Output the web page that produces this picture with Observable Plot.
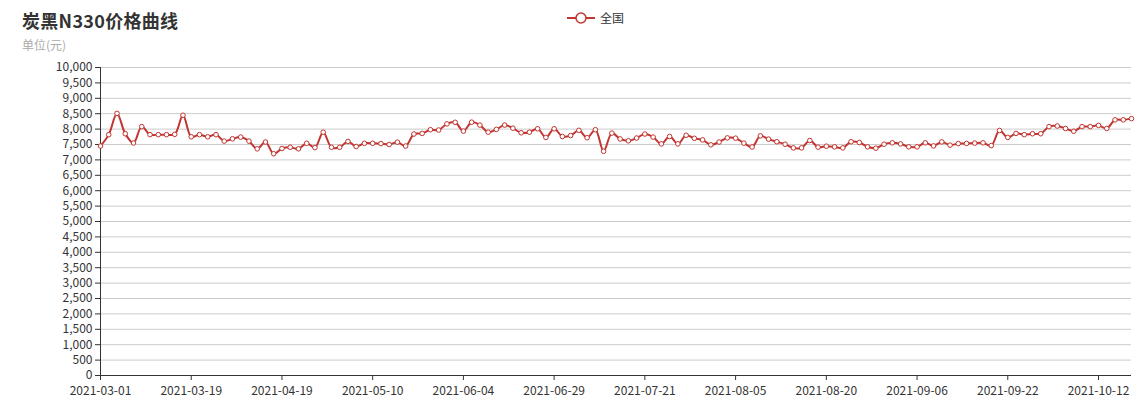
<!DOCTYPE html>
<html>
<head>
<meta charset="utf-8">
<script src="https://cdn.jsdelivr.net/npm/d3@7"></script>
<script src="https://cdn.jsdelivr.net/npm/@observablehq/plot@0.6"></script>
<style>
  html, body { margin: 0; padding: 0; background: #fff; }
  body { width: 1148px; height: 413px; overflow: hidden; font-family: "Noto Sans CJK SC", "Noto Sans", sans-serif; }
  #header { position: relative; height: 56px; }
  #title { position: absolute; left: 22px; top: 7px; font-size: 18px; font-weight: bold; color: #333; letter-spacing: 0.3px; }
  #subtitle { position: absolute; left: 22px; top: 36px; font-size: 12px; color: #aaa; }
  #legend { position: absolute; left: 567px; top: 9px; font-size: 12px; color: #333; display: flex; align-items: center; }
  #legend svg { margin-right: 5px; }
  #chart svg { display: block; }
</style>
</head>
<body>
<div id="header">
  <div id="title">炭黑N330价格曲线</div>
  <div id="subtitle">单位(元)</div>
  <div id="legend"><svg width="28" height="14"><line x1="0" y1="7" x2="28" y2="7" stroke="#c23531" stroke-width="2"/><circle cx="14" cy="7" r="5" fill="#fff" stroke="#c23531" stroke-width="1.5"/></svg><span>全国</span></div>
</div>
<div id="chart"></div>
<script>
const seriesName = "全国";
const dates = [
  "2021-03-01","2021-03-02","2021-03-03","2021-03-04","2021-03-05","2021-03-08","2021-03-09","2021-03-10","2021-03-12","2021-03-15","2021-03-17",
  "2021-03-19","2021-03-22","2021-03-24","2021-03-26","2021-03-29","2021-03-31","2021-04-02","2021-04-07","2021-04-09","2021-04-13","2021-04-15",
  "2021-04-19","2021-04-20","2021-04-21","2021-04-22","2021-04-23","2021-04-26","2021-04-27","2021-04-28","2021-04-29","2021-04-30","2021-05-07",
  "2021-05-10","2021-05-11","2021-05-13","2021-05-14","2021-05-17","2021-05-19","2021-05-21","2021-05-24","2021-05-26","2021-05-28","2021-06-01",
  "2021-06-04","2021-06-07","2021-06-08","2021-06-10","2021-06-11","2021-06-15","2021-06-17","2021-06-18","2021-06-22","2021-06-24","2021-06-25",
  "2021-06-29","2021-06-30","2021-07-01","2021-07-02","2021-07-05","2021-07-07","2021-07-09","2021-07-12","2021-07-14","2021-07-16","2021-07-19",
  "2021-07-21","2021-07-22","2021-07-23","2021-07-26","2021-07-27","2021-07-28","2021-07-29","2021-07-30","2021-08-02","2021-08-03","2021-08-04",
  "2021-08-05","2021-08-06","2021-08-09","2021-08-10","2021-08-11","2021-08-12","2021-08-13","2021-08-16","2021-08-17","2021-08-18","2021-08-19",
  "2021-08-20","2021-08-23","2021-08-24","2021-08-25","2021-08-26","2021-08-27","2021-08-30","2021-08-31","2021-09-01","2021-09-02","2021-09-03",
  "2021-09-06","2021-09-07","2021-09-08","2021-09-09","2021-09-10","2021-09-13","2021-09-14","2021-09-15","2021-09-16","2021-09-17","2021-09-18",
  "2021-09-22","2021-09-23","2021-09-24","2021-09-26","2021-09-27","2021-09-28","2021-09-29","2021-09-30","2021-10-08","2021-10-09","2021-10-11",
  "2021-10-12","2021-10-13","2021-10-14","2021-10-15","2021-10-18"
];
const prices = [
  7450, 7820, 8510, 7850, 7550, 8080, 7820, 7820, 7820, 7830, 8450,
  7750, 7820, 7750, 7820, 7610, 7685, 7740, 7610, 7360, 7580, 7200,
  7370, 7410, 7360, 7540, 7400, 7900, 7410, 7410, 7600, 7435, 7540,
  7540, 7530, 7500, 7575, 7450, 7840, 7860, 7980, 7970, 8170, 8220,
  7935, 8225, 8130, 7900, 7990, 8130, 8030, 7880, 7900, 8010, 7730,
  8010, 7760, 7790, 7960, 7720, 7980, 7280, 7870, 7680, 7620, 7710,
  7840, 7740, 7520, 7760, 7520, 7800, 7700, 7650, 7490, 7580, 7715,
  7705, 7545, 7420, 7780, 7675, 7590, 7510, 7390, 7390, 7630, 7415,
  7445, 7425, 7390, 7590, 7565, 7425, 7380, 7510, 7555, 7520, 7425,
  7425, 7555, 7455, 7585, 7480, 7530, 7535, 7545, 7555, 7465, 7955,
  7730, 7860, 7820, 7850, 7850, 8080, 8100, 8020, 7930, 8080, 8080,
  8120, 8020, 8300, 8300, 8340, 8400
];
const yTicks = d3.range(0, 10001, 500);
const labelStep = 11;

const data = dates.map((d, i) => ({date: d, price: prices[i], series: seriesName}));
const xTicks = dates.filter((d, i) => i % labelStep === 0);
const color = "#c23531";

const chart = Plot.plot({
  width: 1148,
  height: 357,
  marginTop: 11,
  marginBottom: 38,
  marginLeft: 100,
  marginRight: 17,
  style: {fontFamily: "'Noto Sans CJK SC', 'Noto Sans', sans-serif", fontSize: "12px", color: "#333", background: "#fff"},
  x: {type: "point", domain: dates, padding: 0},
  y: {domain: [0, 10000]},
  marks: [
    Plot.gridY(yTicks, {stroke: "#ccc", strokeOpacity: 1}),
    Plot.axisY({ticks: yTicks, tickFormat: d3.format(","), tickSize: 5, tickPadding: 3, stroke: "#333", fill: "#333", label: null}),
    Plot.axisX({ticks: xTicks, tickSize: 5, tickPadding: 6, stroke: "#333", fill: "#333", label: null}),
    Plot.ruleY([0], {stroke: "#333"}),
    Plot.ruleX([dates[0]], {stroke: "#333"}),
    Plot.line(data, {x: "date", y: "price", stroke: color, strokeWidth: 2, curve: "catmull-rom"}),
    Plot.dot(data, {x: "date", y: "price", r: 2.3, fill: "#fff", stroke: color, strokeWidth: 1, title: d => `${d.date} ${d.series}: ${d.price}`})
  ]
});
document.getElementById("chart").appendChild(chart);
</script>
</body>
</html>
